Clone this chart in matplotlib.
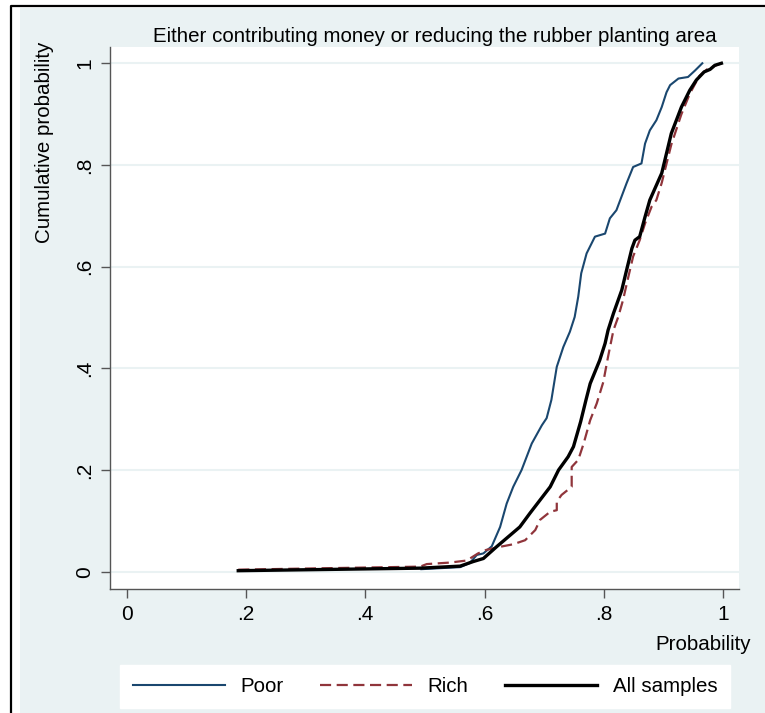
import matplotlib
matplotlib.use("Agg")
import matplotlib.pyplot as plt
from matplotlib.patches import Rectangle
from matplotlib.lines import Line2D

plt.rcParams['font.family'] = ['Liberation Sans', 'DejaVu Sans']

# values (estimated)
poor_x = [0.494, 0.559, 0.575, 0.587, 0.598, 0.612, 0.626, 0.637, 0.648, 0.662,
          0.679, 0.696, 0.704, 0.712, 0.721, 0.732, 0.743, 0.751, 0.757, 0.762,
          0.771, 0.785, 0.802, 0.810, 0.821, 0.838, 0.849, 0.863, 0.869, 0.877,
          0.888, 0.897, 0.905, 0.911, 0.925, 0.941, 0.953, 0.965]
poor_y = [0.005, 0.009, 0.017, 0.033, 0.036, 0.050, 0.088, 0.134, 0.167, 0.200,
          0.252, 0.288, 0.302, 0.338, 0.403, 0.442, 0.472, 0.501, 0.541, 0.587,
          0.626, 0.659, 0.665, 0.695, 0.711, 0.764, 0.796, 0.803, 0.842, 0.868,
          0.888, 0.914, 0.943, 0.957, 0.970, 0.973, 0.986, 1.0]

rich_x = [0.187, 0.492, 0.503, 0.542, 0.570, 0.589, 0.603, 0.626, 0.648, 0.668,
          0.685, 0.693, 0.710, 0.721, 0.721, 0.729, 0.746, 0.746, 0.757, 0.766,
          0.777, 0.788, 0.799, 0.807, 0.816, 0.824, 0.832, 0.841, 0.849, 0.860,
          0.869, 0.880, 0.888, 0.897, 0.913, 0.930, 0.944, 0.960, 0.975, 0.997]
rich_y = [0.004, 0.010, 0.015, 0.018, 0.022, 0.036, 0.043, 0.049, 0.054, 0.062,
          0.082, 0.102, 0.118, 0.121, 0.138, 0.151, 0.167, 0.206, 0.220, 0.252,
          0.298, 0.331, 0.373, 0.423, 0.475, 0.501, 0.534, 0.580, 0.620, 0.652,
          0.685, 0.718, 0.731, 0.765, 0.840, 0.900, 0.940, 0.975, 0.990, 1.0]

all_x = [0.187, 0.492, 0.559, 0.581, 0.598, 0.620, 0.640, 0.659, 0.676, 0.693,
         0.710, 0.724, 0.740, 0.749, 0.761, 0.770, 0.777, 0.785, 0.793, 0.802,
         0.807, 0.816, 0.830, 0.838, 0.847, 0.852, 0.860, 0.869, 0.877, 0.897,
         0.913, 0.930, 0.944, 0.955, 0.968, 0.978, 0.986, 0.997]
all_y = [0.002, 0.007, 0.011, 0.020, 0.026, 0.049, 0.069, 0.088, 0.115, 0.141,
         0.167, 0.200, 0.226, 0.246, 0.295, 0.338, 0.370, 0.393, 0.416, 0.449,
         0.475, 0.508, 0.554, 0.593, 0.636, 0.652, 0.659, 0.698, 0.731, 0.784,
         0.862, 0.914, 0.947, 0.967, 0.983, 0.988, 0.996, 1.0]

ticks = [0, 0.2, 0.4, 0.6, 0.8, 1]
tick_labels = ['0', '.2', '.4', '.6', '.8', '1']
series_names = ['Poor', 'Rich', 'All samples']

W, H = 765, 713
bg = '#EAF2F3'
fig = plt.figure(figsize=(W / 100, H / 100), dpi=100, facecolor='white')

# stata style background and the black frame
fig.add_artist(Rectangle((20 / W, 0), 1, 1 - 8 / H, transform=fig.transFigure,
                         facecolor=bg, edgecolor='none', zorder=0))
fig.add_artist(Line2D([11 / W, 11 / W, 1], [0, 1 - 6 / H, 1 - 6 / H],
                      transform=fig.transFigure, color='black', lw=1.6))

ax = fig.add_axes([110 / W, 1 - 589 / H, 629.3 / W, 542 / H])
ax.set_facecolor('white')

ax.plot(poor_x, poor_y, color='#1A476F', lw=1.5, label=series_names[0])
ax.plot(rich_x, rich_y, color='#90353B', lw=1.6, dashes=(5, 2.5), label=series_names[1])
ax.plot(all_x, all_y, color='black', lw=2.4, label=series_names[2])

ax.set_xlim(-0.028, 1.027)
ax.set_ylim(-0.034, 1.032)
ax.set_xticks(ticks)
ax.set_xticklabels(tick_labels, fontsize=15)
ax.set_yticks(ticks)
ax.set_yticklabels(tick_labels, fontsize=15, rotation=90, va='center')
ax.tick_params(direction='out', length=6.5, width=1, color='#555555', pad=5)
ax.yaxis.grid(True, color=bg, lw=1.5)
ax.set_axisbelow(True)
for s in ['top', 'right']:
    ax.spines[s].set_visible(False)
for s in ['left', 'bottom']:
    ax.spines[s].set_color('#555555')
    ax.spines[s].set_linewidth(1)

fig.text(435 / W, 1 - 37 / H, 'Either contributing money or reducing the rubber planting area',
         ha='center', va='center', fontsize=14.8)
fig.text(45 / W, 1 - 142 / H, 'Cumulative probability', rotation=90,
         ha='center', va='center', fontsize=14.8)
fig.text(751 / W, 1 - 645 / H, 'Probability', ha='right', va='center', fontsize=14.8)

leg = fig.legend(loc='center', bbox_to_anchor=(425 / W, 1 - 686.5 / H), ncol=3,
                 fontsize=14.8, handlelength=4.5, handletextpad=0.75,
                 columnspacing=1.75, borderpad=0.6, fancybox=False, framealpha=1)
leg.get_frame().set_facecolor('white')
leg.get_frame().set_edgecolor('white')

fig.savefig('out.png', dpi=100, facecolor='white')
